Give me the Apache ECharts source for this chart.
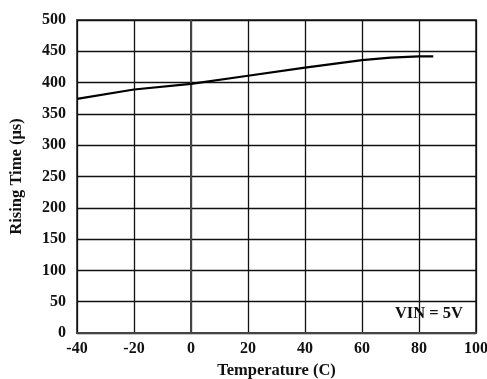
<!DOCTYPE html>
<html>
<head>
<meta charset="utf-8">
<script src="https://cdn.jsdelivr.net/npm/echarts@6/dist/echarts.min.js"></script>
<style>html,body{margin:0;padding:0;background:#fff;}#c{width:487px;height:379px;}</style>
</head>
<body>
<div id="c"></div>
<script>
const temperature = [-40, -20, 0, 20, 40, 60, 70, 80, 85];
const risingTime = [374, 389, 398, 411, 424, 436, 440, 442, 442];
const xTicks = [-40, -20, 0, 20, 40, 60, 80, 100];
const yTicks = [0, 50, 100, 150, 200, 250, 300, 350, 400, 450, 500];
const xName = 'Temperature (C)';
const yName = 'Rising Time (\u03bcs)';
const noteText = 'VIN = 5V';

const font = 'Liberation Serif';
const chart = echarts.init(document.getElementById('c'));
chart.setOption({
  animation: false,
  backgroundColor: '#fff',
  grid: { left: 77, right: 11, top: 20, bottom: 46, outerBoundsMode: 'none', containLabel: false, show: true, borderColor: '#555', borderWidth: 2, backgroundColor: 'transparent' },
  xAxis: {
    type: 'value', min: xTicks[0], max: xTicks[xTicks.length - 1], interval: 20,
    name: xName, nameLocation: 'middle', nameGap: 29,
    nameTextStyle: { fontFamily: font, fontWeight: 'bold', fontSize: 16.5, color: '#111' },
    axisLine: { show: true, lineStyle: { color: '#444', width: 2 } },
    axisTick: { show: false },
    axisLabel: { fontFamily: font, fontWeight: 'bold', fontSize: 16, color: '#111', margin: 8 },
    splitLine: { show: true, lineStyle: { color: '#111', width: 1.3 } }
  },
  yAxis: {
    type: 'value', min: yTicks[0], max: yTicks[yTicks.length - 1], interval: 50,
    name: yName, nameLocation: 'middle', nameGap: 52,
    nameTextStyle: { fontFamily: font, fontWeight: 'bold', fontSize: 16.5, color: '#111' },
    axisLine: { show: true, lineStyle: { color: '#444', width: 2 } },
    axisTick: { show: false },
    axisLabel: { fontFamily: font, fontWeight: 'bold', fontSize: 16, color: '#111', margin: 11 },
    splitLine: { show: true, lineStyle: { color: '#111', width: 1.3 } }
  },
  series: [{
    type: 'line',
    data: temperature.map((t, i) => [t, risingTime[i]]),
    showSymbol: false,
    lineStyle: { color: '#000', width: 2.2 },
    smooth: false
  }],
  graphic: [{
    type: 'text', right: 24, top: 305,
    style: { text: noteText, font: 'bold 16.5px "Liberation Serif"', fill: '#111' }
  }]
});
</script>
</body>
</html>
